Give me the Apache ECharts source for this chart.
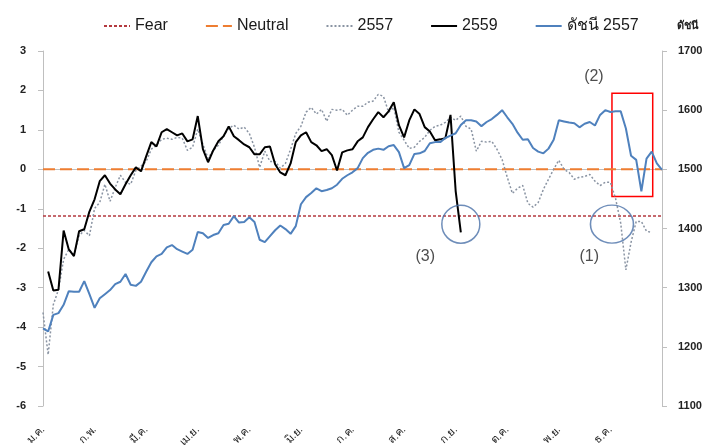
<!DOCTYPE html>
<html><head><meta charset="utf-8">
<script src="https://cdn.jsdelivr.net/npm/echarts@6/dist/echarts.min.js"></script>
<style>html,body{margin:0;padding:0;background:#fff}#c{width:718px;height:447px}</style>
</head><body><div id="c"></div>
<script>
const monthLabels = ['ม.ค.','ก.พ.','มี.ค.','เม.ย.','พ.ค.','มิ.ย.','ก.ค.','ส.ค.','ก.ย.','ต.ค.','พ.ย.','ธ.ค.'];
const fearLevel = -1.18;
const neutralLevel = 0;
const s2557 = [-3.63,-4.70,-3.43,-3.05,-2.28,-2.03,-2.16,-1.68,-1.55,-1.68,
 -0.99,-0.84,-0.38,-0.81,-0.46,-0.15,-0.33,-0.38,-0.03,0.08,
 0.20,0.51,0.61,0.76,0.79,0.76,0.81,0.79,0.48,0.56,
 1.02,0.63,0.28,0.48,0.61,0.84,1.04,1.12,1.02,1.07,
 0.91,0.56,0.05,0.46,0.20,0.20,0.03,0.15,0.51,0.91,
 1.09,1.45,1.57,1.40,1.52,1.22,1.52,1.50,1.52,1.37,
 1.50,1.60,1.60,1.70,1.73,1.90,1.85,1.45,1.57,0.94,
 0.74,0.53,0.56,0.71,0.81,0.99,1.09,1.12,1.19,1.32,
 1.24,1.35,1.09,1.02,0.46,0.71,0.69,0.71,0.51,0.25,
 -0.20,-0.61,-0.48,-0.41,-0.86,-0.96,-0.84,-0.51,-0.25,0.00,
 0.23,0.00,-0.08,-0.25,-0.20,-0.18,-0.13,-0.30,-0.41,-0.33,
 -0.33,-0.74,-1.37,-2.55,-1.85,-1.32,-1.32,-1.57,-1.60,null,null];
const s2559 = [null,-2.59,-3.07,-3.05,-1.55,-2.03,-2.2,-1.57,-1.52,-1.07,
 -0.76,-0.30,-0.15,-0.36,-0.51,-0.63,-0.38,-0.15,0.05,-0.05,
 0.33,0.69,0.58,0.94,1.02,0.94,0.86,0.91,0.71,0.76,
 1.35,0.51,0.18,0.48,0.71,0.84,1.09,0.84,0.74,0.63,
 0.56,0.38,0.38,0.56,0.58,0.13,-0.08,-0.15,0.15,0.69,
 0.86,0.94,0.69,0.61,0.46,0.51,0.36,-0.03,0.43,0.48,
 0.51,0.71,0.81,1.07,1.27,1.45,1.32,1.47,1.70,1.12,
 0.81,1.24,1.52,1.40,1.07,0.96,0.74,0.76,0.79,1.38,
 -0.55,-1.6,null,null,null,null,null,null,null,null,
 null,null,null,null,null,null,null,null,null,null,
 null,null,null,null,null,null,null,null,null,null,
 null,null,null,null,null,null,null,null,null,null,null];
const index2557 = [1231,1226,1254,1257,1271,1294,1293,1293,1311,1289,
 1266,1282,1289,1296,1306,1310,1323,1305,1303,1310,
 1327,1343,1353,1357,1368,1372,1365,1361,1357,1364,
 1394,1392,1384,1389,1392,1406,1408,1421,1410,1411,
 1419,1411,1381,1377,1387,1397,1405,1399,1391,1404,
 1441,1453,1460,1468,1463,1465,1468,1474,1484,1490,
 1495,1502,1519,1528,1533,1535,1533,1539,1541,1529,
 1502,1507,1526,1527,1531,1544,1546,1546,1553,1557,
 1561,1575,1583,1583,1581,1573,1580,1585,1592,1600,
 1588,1577,1562,1550,1551,1536,1530,1527,1535,1550,
 1583,1581,1579,1578,1571,1577,1580,1574,1592,1600,
 1597,1598,1598,1569,1523,1516,1463,1518,1530,1510,1499];
const circleMarks = [[81.0,-1.39,38,38],[110.3,-1.39,43,38]];
const textMarks = [[74.1,-2.22,'(3)'],[105.9,-2.22,'(1)'],[106.8,2.34,'(2)']];
const boxMark = [[110.3,1.93],[118.2,-0.69]];

const days = s2557.map((_, i) => String(i));
const FONT = "'Liberation Sans', Arial, 'Noto Sans', sans-serif";
const chart = echarts.init(document.getElementById('c'));
const axisGray = '#BFBFBF';
chart.setOption({
  animation: false,
  textStyle: { fontFamily: FONT },
  legend: {
    data: ['Fear','Neutral','2557','2559','ดัชนี 2557'],
    left: 98, top: 13, itemGap: 37, itemWidth: 26, itemHeight: 14,
    itemStyle: { opacity: 0, borderWidth: 0 },
    textStyle: { fontSize: 16, color: '#1a1a1a', fontFamily: FONT },
    selectedMode: false
  },
  grid: { left: 43, right: 56, top: 51, bottom: 41, containLabel: false, outerBoundsMode: 'none' },
  xAxis: [{
    type: 'category', data: days, boundaryGap: false,
    axisLine: { show: false, onZero: false }, axisTick: { show: false },
    axisLabel: { interval: 9, rotate: 45, margin: 22, fontSize: 11, color: '#222',
      formatter: (v, i) => monthLabels[i / 10] || '' },
    splitLine: { show: false }
  }, {
    type: 'value', min: 0, max: 120, position: 'bottom',
    axisLine: { show: true, onZero: true, lineStyle: { color: axisGray, width: 1 } },
    axisTick: { show: false }, axisLabel: { show: false }, splitLine: { show: false }
  }],
  yAxis: [{
    type: 'value', min: -6, max: 3, interval: 1,
    axisLine: { show: true, lineStyle: { color: axisGray } },
    axisTick: { show: true, length: 5, lineStyle: { color: axisGray } },
    axisLabel: { margin: 17, fontSize: 11, fontWeight: 'bold', color: '#222', formatter: v => String(v) },
    splitLine: { show: false }
  }, {
    type: 'value', position: 'right', min: 1100, max: 1700, interval: 100,
    name: 'ดัชนี', nameLocation: 'end', nameGap: 20,
    nameTextStyle: { fontSize: 11, color: '#222', fontWeight: 'bold', align: 'left', padding: [0,0,0,15] },
    axisLine: { show: true, lineStyle: { color: axisGray } },
    axisTick: { show: true, length: 5, lineStyle: { color: axisGray } },
    axisLabel: { margin: 16, fontSize: 11, fontWeight: 'bold', color: '#222', formatter: v => String(v) },
    splitLine: { show: false }
  }],
  series: [
    { name: 'Fear', type: 'line', data: days.map(() => fearLevel), symbol: 'none',
      color: '#B4393F', lineStyle: { width: 1.5, type: [3, 2] }, z: 2 },
    { name: 'Neutral', type: 'line', data: days.map(() => neutralLevel), symbol: 'none',
      color: '#EE7D31', lineStyle: { width: 2, type: [12, 5] }, z: 2 },
    { name: '2557', type: 'line', data: s2557, symbol: 'none',
      color: '#8A94A3', lineStyle: { width: 1.5, type: [2, 2] }, z: 3 },
    { name: '2559', type: 'line', data: s2559, symbol: 'none',
      color: '#000000', lineStyle: { width: 2 }, z: 4 },
    { name: 'ดัชนี 2557', type: 'line', data: index2557, yAxisIndex: 1, symbol: 'none',
      color: '#4F81BD', lineStyle: { width: 2 }, z: 4 },
    { name: 'circles', type: 'scatter', xAxisIndex: 1, yAxisIndex: 0, silent: true, z: 5,
      data: circleMarks.map(c => ({ value: [c[0], c[1]], symbolSize: [c[2], c[3]] })),
      symbol: 'circle',
      itemStyle: { color: 'rgba(0,0,0,0)', borderColor: '#4A70A8', borderWidth: 1.5 },
      markArea: { silent: true,
        itemStyle: { color: 'rgba(0,0,0,0)', borderColor: '#FF0000', borderWidth: 1.5 },
        data: [[{ coord: boxMark[0] }, { coord: boxMark[1] }]] } },
    { name: 'notes', type: 'scatter', xAxisIndex: 1, yAxisIndex: 0, silent: true, z: 6,
      symbolSize: 0,
      data: textMarks.map(t => ({ value: [t[0], t[1]], name: t[2] })),
      label: { show: true, position: 'inside', formatter: p => p.name, fontSize: 16, color: '#222' } }
  ]
});
</script></body></html>
